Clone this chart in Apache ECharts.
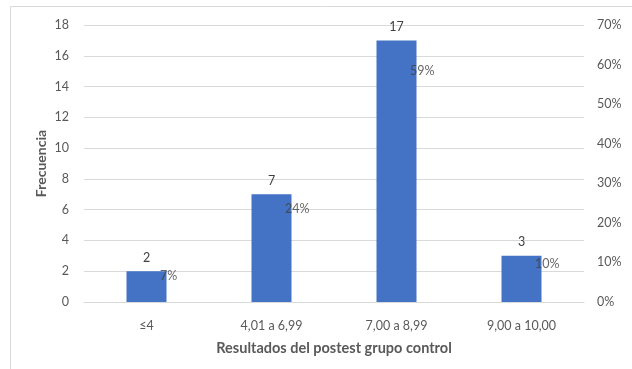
<!DOCTYPE html>
<html>
<head>
<meta charset="utf-8">
<script src="https://cdn.jsdelivr.net/npm/echarts@6/dist/echarts.min.js"></script>
<style>
  html, body { margin: 0; padding: 0; background: #ffffff; }
  #chart { width: 632px; height: 369px; }
</style>
</head>
<body>
<div id="chart"></div>
<script>
// Frequency of post-test scores (control group) with share of total
const categories = ['≤4', '4,01 a 6,99', '7,00 a 8,99', '9,00 a 10,00'];
const frequencies = [2, 7, 17, 3];
const percentages = [7, 24, 59, 10];
const leftTicks = [0, 2, 4, 6, 8, 10, 12, 14, 16, 18];
const rightTicks = [0, 10, 20, 30, 40, 50, 60, 70];

const FONT = 'Lato, "Open Sans", sans-serif';
const TEXT = '#595959';

const chart = echarts.init(document.getElementById('chart'), null, { renderer: 'canvas' });

chart.setOption({
  animation: false,
  backgroundColor: '#ffffff',
  textStyle: { fontFamily: FONT },
  graphic: [
    { type: 'line', shape: { x1: 10.5, y1: 6.5, x2: 632, y2: 6.5 }, style: { stroke: '#d9d9d9', lineWidth: 1 } },
    { type: 'line', shape: { x1: 10.5, y1: 6.5, x2: 10.5, y2: 369 }, style: { stroke: '#d9d9d9', lineWidth: 1 } }
  ],
  grid: { left: 84, right: 48, top: 25, bottom: 67, containLabel: false },
  xAxis: {
    type: 'category',
    data: categories,
    name: 'Resultados del postest grupo control',
    nameLocation: 'middle',
    nameGap: 39,
    nameTextStyle: { color: TEXT, fontSize: 14.5, fontWeight: 'bold', fontFamily: FONT },
    axisLine: { show: true, lineStyle: { color: '#d9d9d9', width: 1 } },
    axisTick: { show: false },
    axisLabel: { color: TEXT, fontSize: 12.5, margin: 17, fontFamily: FONT }
  },
  yAxis: [
    {
      type: 'value',
      min: leftTicks[0],
      max: leftTicks[leftTicks.length - 1],
      interval: leftTicks[1] - leftTicks[0],
      name: 'Frecuencia',
      nameLocation: 'middle',
      nameGap: 36,
      nameMoveOverlap: false,
      nameRotate: 90,
      nameTextStyle: { color: TEXT, fontSize: 14, fontWeight: 'bold', fontFamily: FONT },
      axisLine: { show: false },
      axisTick: { show: false },
      axisLabel: { color: TEXT, fontSize: 12.5, margin: 15, fontFamily: FONT },
      splitLine: { lineStyle: { color: '#d9d9d9', width: 1 } }
    },
    {
      type: 'value',
      min: rightTicks[0],
      max: rightTicks[rightTicks.length - 1],
      interval: rightTicks[1] - rightTicks[0],
      position: 'right',
      axisLine: { show: false },
      axisTick: { show: false },
      axisLabel: { color: TEXT, fontSize: 12.5, margin: 13, fontFamily: FONT, formatter: '{value}%' },
      splitLine: { show: false }
    }
  ],
  series: [
    {
      type: 'bar',
      data: frequencies,
      barWidth: 40,
      itemStyle: { color: '#4472C4' },
      label: { show: true, position: 'top', distance: 7, color: '#404040', fontSize: 12.5, fontFamily: FONT }
    },
    {
      type: 'scatter',
      yAxisIndex: 1,
      data: percentages,
      symbolSize: 1,
      itemStyle: { color: 'rgba(0,0,0,0)' },
      label: {
        show: true,
        position: 'right',
        distance: 13,
        offset: [0, 2],
        color: '#404040',
        fontSize: 12.5,
        fontFamily: FONT,
        formatter: p => p.value + '%'
      },
      z: 5
    }
  ]
});
</script>
</body>
</html>
